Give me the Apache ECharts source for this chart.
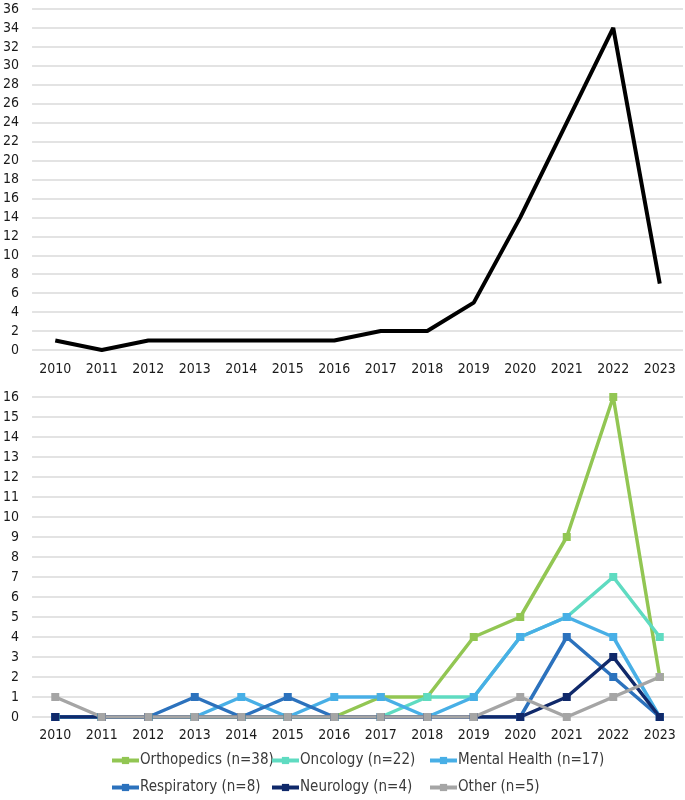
<!DOCTYPE html>
<html>
<head>
<meta charset="utf-8">
<script src="https://cdn.jsdelivr.net/npm/echarts@6/dist/echarts.min.js"></script>
<style>
  html, body { margin: 0; padding: 0; background: #fff; }
  #chart { width: 685px; height: 800px; }
</style>
</head>
<body>
<div id="chart"></div>
<script>
const years = ['2010', '2011', '2012', '2013', '2014', '2015', '2016', '2017', '2018', '2019', '2020', '2021', '2022', '2023'];

// top panel: all studies per year
const totalPerYear = [1, 0, 1, 1, 1, 1, 1, 2, 2, 5, 14, 24, 34, 7];

// bottom panel: per specialty
const orthopedics = [0, 0, 0, 0, 0, 0, 0, 1, 1, 4, 5, 9, 16, 2];
const oncology = [0, 0, 0, 0, 0, 0, 0, 0, 1, 1, 4, 5, 7, 4];
const mentalHealth = [0, 0, 0, 0, 1, 0, 1, 1, 0, 1, 4, 5, 4, 0];
const respiratory = [0, 0, 0, 1, 0, 1, 0, 0, 0, 0, 0, 4, 2, 0];
const neurology = [0, 0, 0, 0, 0, 0, 0, 0, 0, 0, 0, 1, 3, 0];
const other = [1, 0, 0, 0, 0, 0, 0, 0, 0, 0, 1, 0, 1, 2];

const seriesNames = ['Orthopedics (n=38)', 'Oncology (n=22)', 'Mental Health (n=17)', 'Respiratory (n=8)', 'Neurology (n=4)', 'Other (n=5)'];
const seriesData = [orthopedics, oncology, mentalHealth, respiratory, neurology, other];
const seriesColors = ['#92c653', '#5fdbc1', '#48afe6', '#2c72bd', '#10296a', '#a5a5a5'];

const font = '"Liberation Sans Narrow", "DejaVu Sans Condensed", sans-serif';
const textColor = '#1a1a1a';

const gridLine = { show: true, lineStyle: { color: '#dadada', width: 1.5 } };

const xAxisFor = (gridIndex, margin) => ({
  type: 'category',
  gridIndex,
  data: years,
  boundaryGap: true,
  axisLine: { show: false },
  axisTick: { show: false },
  axisLabel: { color: textColor, fontFamily: font, fontSize: 14, margin },
});

const yAxisFor = (gridIndex, max, interval) => ({
  type: 'value',
  gridIndex,
  min: 0,
  max,
  interval,
  axisLine: { show: false },
  axisTick: { show: false },
  splitLine: gridLine,
  axisLabel: { color: textColor, fontFamily: font, fontSize: 14, margin: 13 },
});

// legend laid out as 3 columns x 2 rows
const legendCols = [110, 270, 428];
const legendRows = [753, 780];
const legends = seriesNames.map((name, i) => ({
  data: [{ name, itemStyle: { color: seriesColors[i] }, lineStyle: { color: seriesColors[i], width: 4 } }],
  left: legendCols[i % 3],
  top: legendRows[Math.floor(i / 3)],
  itemWidth: 27,
  itemHeight: 9,
  itemGap: 0,
  padding: 0,
  textStyle: { color: '#3a3a3a', fontFamily: font, fontSize: 15, padding: [0, 0, 0, -4] },
}));

const chart = echarts.init(document.getElementById('chart'));
chart.setOption({
  animation: false,
  backgroundColor: '#fff',
  grid: [
    { left: 31, right: 2, top: 9, bottom: 450 },
    { left: 31, right: 2, top: 397, bottom: 83 },
  ],
  xAxis: [xAxisFor(0, 12), xAxisFor(1, 11)],
  yAxis: [yAxisFor(0, 36, 2), yAxisFor(1, 16, 1)],
  legend: legends,
  series: [
    {
      type: 'line',
      xAxisIndex: 0,
      yAxisIndex: 0,
      data: totalPerYear,
      showSymbol: false,
      lineStyle: { color: '#000', width: 4 },
      itemStyle: { color: '#000' },
    },
  ].concat(seriesData.map((d, i) => ({
    type: 'line',
    name: seriesNames[i],
    xAxisIndex: 1,
    yAxisIndex: 1,
    data: d,
    symbol: 'rect',
    symbolSize: 8,
    lineStyle: { color: seriesColors[i], width: 3.5 },
    itemStyle: { color: seriesColors[i] },
  }))),
});
</script>
</body>
</html>
